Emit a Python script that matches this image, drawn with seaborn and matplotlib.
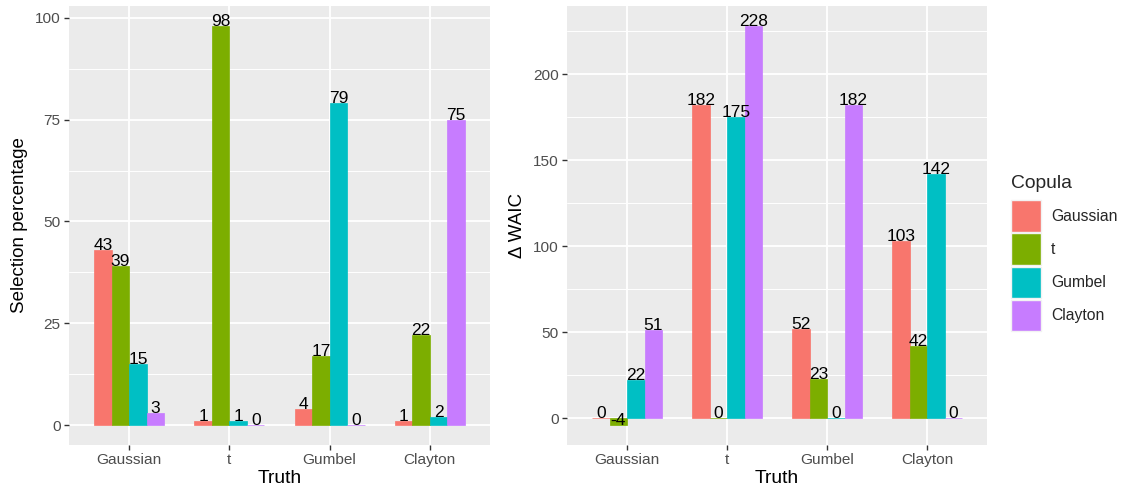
import matplotlib
matplotlib.use("Agg")
import matplotlib.pyplot as plt
from matplotlib.patches import Patch
from matplotlib.ticker import MultipleLocator
import numpy as np
import pandas as pd
import seaborn as sns

# Data
truth = ["Gaussian", "t", "Gumbel", "Clayton"]
copulas = ["Gaussian", "t", "Gumbel", "Clayton"]
palette = ["#F8766D", "#7CAE00", "#00BFC4", "#C77CFF"]

# selection percentage per fitted copula, rows = truth
sel_gaussian = [43, 1, 4, 1]
sel_t = [39, 98, 17, 22]
sel_gumbel = [15, 1, 79, 2]
sel_clayton = [3, 0, 0, 75]

# delta WAIC per fitted copula, rows = truth
waic_gaussian = [0, 182, 52, 103]
waic_t = [-4, 0, 23, 42]
waic_gumbel = [22, 175, 0, 142]
waic_clayton = [51, 228, 182, 0]


def long_frame(cols):
    rows = []
    for cop, vals in zip(copulas, cols):
        for tr, v in zip(truth, vals):
            rows.append({"Truth": tr, "Copula": cop, "value": v})
    return pd.DataFrame(rows)


df_sel = long_frame([sel_gaussian, sel_t, sel_gumbel, sel_clayton])
df_waic = long_frame([waic_gaussian, waic_t, waic_gumbel, waic_clayton])

sns.set_theme(style="darkgrid")
plt.rcParams["font.family"] = ["Liberation Sans", "DejaVu Sans"]

fig = plt.figure(figsize=(11.26, 4.94), dpi=100)
ax1 = fig.add_axes([69 / 1126, 1 - 445 / 494, 421 / 1126, 439 / 494])
ax2 = fig.add_axes([567 / 1126, 1 - 445 / 494, 420 / 1126, 439 / 494])


def draw(ax, df, ylabel, ylim, major):
    sns.barplot(data=df, x="Truth", y="value", hue="Copula", order=truth,
                hue_order=copulas, palette=palette, width=0.7, gap=0,
                saturation=1, errorbar=None, ax=ax, legend=False,
                linewidth=0)
    for cont in ax.containers:
        for bar, val in zip(cont, cont.datavalues):
            # hairline edge keeps zero-valued bars visible as a thin line
            bar.set_edgecolor(bar.get_facecolor())
            bar.set_linewidth(0.5)
            ax.text(bar.get_x() + bar.get_width() / 2, val, f"{val:g}",
                    ha="center", va="baseline", fontsize=12.5, color="black")
    ax.set_facecolor("#EBEBEB")
    for s in ax.spines.values():
        s.set_visible(False)
    ax.set_xlim(-0.6, 3.6)
    ax.set_ylim(*ylim)
    ax.yaxis.set_major_locator(MultipleLocator(major))
    ax.yaxis.set_minor_locator(MultipleLocator(major / 2))
    ax.grid(which="major", color="white", linewidth=1.35)
    ax.grid(which="minor", axis="y", color="white", linewidth=0.7)
    ax.set_axisbelow(True)
    ax.tick_params(axis="both", which="major", length=3.5, width=1.0,
                   color="#333333", labelcolor="#4D4D4D", labelsize=11.1,
                   pad=2.5, bottom=True, left=True)
    ax.tick_params(axis="y", which="minor", length=0)
    ax.set_xlabel("Truth", fontsize=13.9, color="black", labelpad=2)
    ax.set_ylabel(ylabel, fontsize=13.5, color="black", labelpad=5)


draw(ax1, df_sel, "Selection percentage", (-4.9, 102.9), 25)
draw(ax2, df_waic, "\u0394 WAIC", (-15.6, 239.6), 50)

handles = [Patch(facecolor=c, edgecolor="#F2F2F2", linewidth=1.0) for c in palette]
leg = fig.legend(handles, copulas, title="Copula", loc="upper left",
                 bbox_to_anchor=(1003 / 1126, 1 - 167 / 494), frameon=False,
                 fontsize=11.3, title_fontsize=13.9, handlelength=1.9,
                 handleheight=2.7, labelspacing=0.12, handletextpad=0.65,
                 borderpad=0, alignment="left")
leg._legend_box.sep = 6

fig.savefig("out.png", dpi=100)
